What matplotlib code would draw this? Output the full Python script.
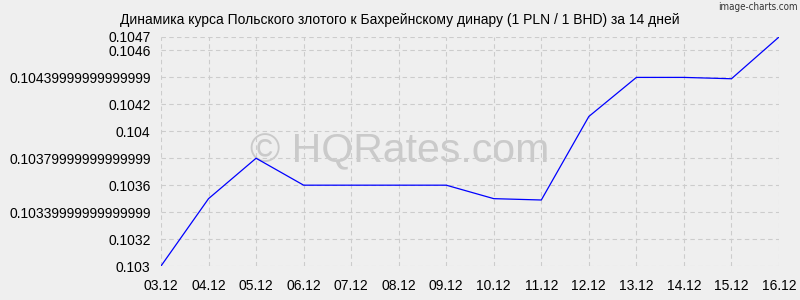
import matplotlib.pyplot as plt

# данные курса PLN/BHD
dates = ["03.12", "04.12", "05.12", "06.12", "07.12", "08.12", "09.12",
         "10.12", "11.12", "12.12", "13.12", "14.12", "15.12", "16.12"]
rates = [0.1030, 0.10350, 0.10380, 0.10360, 0.10360, 0.10360, 0.10360,
         0.10350, 0.10349, 0.10411, 0.10440, 0.10440, 0.10439, 0.1047]
yticks = [0.103, 0.1032, 0.1034, 0.1036, 0.1038, 0.104, 0.1042, 0.1044, 0.1046, 0.1047]
ylabels = ["0.103", "0.1032", "0.10339999999999999", "0.1036", "0.10379999999999999",
           "0.104", "0.1042", "0.10439999999999999", "0.1046", "0.1047"]

plt.rcParams['font.family'] = ['Liberation Sans', 'DejaVu Sans']

fig = plt.figure(figsize=(8, 3), dpi=100, facecolor='#efefef')
ax = fig.add_axes([0.20125, 0.1133, 0.7725, 0.7634])
ax.patch.set_visible(False)

x = range(len(dates))
ax.plot(x, rates, color='#0000ff', linewidth=0.9)

ax.set_xlim(0, len(dates) - 1)
ax.set_ylim(0.103, 0.1047)
ax.set_xticks(list(x))
ax.set_xticklabels(dates)
ax.set_yticks(yticks)
ax.set_yticklabels(ylabels)
ax.tick_params(length=0, labelsize=10, colors='#000000')
ax.tick_params(axis='x', pad=9)
ax.tick_params(axis='y', pad=7.5)
ax.grid(True, color='#cccccc', linestyle=(0, (4, 3)), linewidth=0.8)
for s in ax.spines.values():
    s.set_visible(False)

fig.text(0.5, 0.933, "Динамика курса Польского злотого к Бахрейнскому динару (1 PLN / 1 BHD) за 14 дней",
         ha='center', va='center', fontsize=10)
fig.text(0.997, 0.977, "image-charts.com", ha='right', va='center', fontsize=7,
         color='#333333', family='DejaVu Sans', stretch='condensed')
fig.text(0.5, 0.46, "© HQRates.com", ha='center', va='baseline', fontsize=29.5,
         color='#cacaca', zorder=-1)

fig.savefig("out.png", dpi=100, facecolor=fig.get_facecolor())
